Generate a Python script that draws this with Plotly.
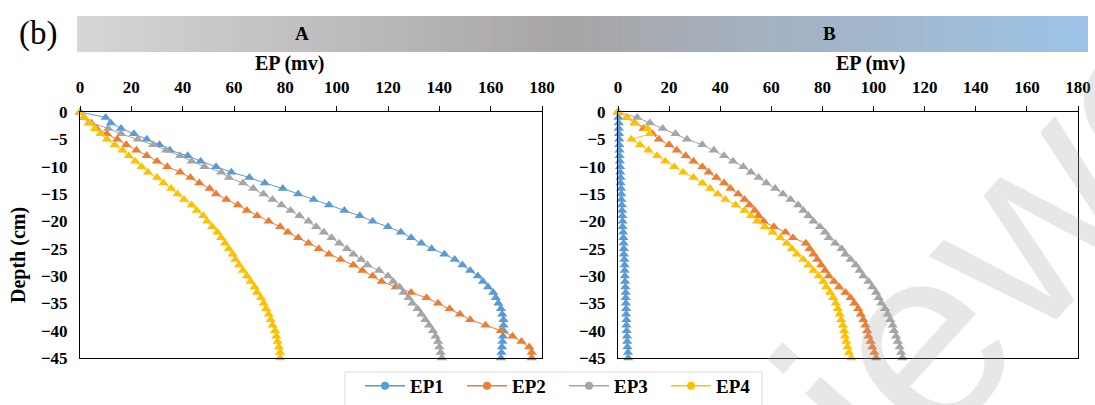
import plotly.graph_objects as go

W, H = 1095, 405

depth = [0, -1, -2, -3, -4, -5, -6, -7, -8, -9, -10, -11, -12, -13, -14, -15,
         -16, -17, -18, -19, -20, -21, -22, -23, -24, -25, -26, -27, -28, -29,
         -30, -31, -32, -33, -34, -35, -36, -37, -38, -39, -40, -41, -42, -43,
         -44, -45]

series_names = ["EP1", "EP2", "EP3", "EP4"]

# Panel A
A_EP1 = [0, 10, 12, 16, 21, 26, 31, 35, 42, 47, 53, 59, 66, 72, 79, 85, 91, 97, 103, 109,
         114, 120, 125, 129, 133, 137, 142, 146, 149, 152, 155, 157, 159, 161, 162, 163,
         164, 164.5, 165, 165, 165, 164.8, 164.6, 164.4, 164.2, 164]
A_EP2 = [0, 1.5, 3.5, 6.5, 10.5, 14.5, 18, 22, 26, 30, 34, 39, 43, 46.5, 50.5, 53, 57,
         61.5, 65, 69, 73.5, 78, 81, 85, 89, 93, 97, 101.5, 106.5, 110, 114, 117.5, 123,
         129, 135, 139.5, 144, 148, 152, 158, 164, 168.5, 172, 175, 176, 176]
A_EP3 = [0, 1.5, 4.5, 11, 16, 22.5, 28.5, 33.5, 39, 43.5, 48.5, 55, 58, 63.5, 67.5, 71.5,
         75, 78.5, 82, 85.5, 89, 92, 95, 98, 101, 104, 106.5, 109.5, 112, 116.5, 120, 122,
         124.5, 126, 128, 129.5, 131.5, 133, 134.5, 136, 137.5, 138.5, 139.5, 140, 140.5, 141]
A_EP4 = [0, 1.5, 3.8, 5.8, 8, 10.5, 13.5, 16.5, 19, 21.5, 24, 26.5, 30, 32.5, 35.5, 38,
         40.5, 43.5, 45.5, 48, 49.5, 51.5, 53.5, 55, 56.5, 58, 59.5, 60.5, 62, 63.5, 65,
         66.5, 68, 69, 70.5, 71.5, 72.5, 73.5, 74.3, 75, 76, 76.5, 77, 77.5, 78, 78]

# Panel B
B_EP1 = [0, 0.2, 0.3, 0.3, 0.4, 0.5, 0.5, 0.6, 0.6, 0.7, 0.8, 0.9, 1.0, 1.0, 1.2, 1.3,
         1.3, 1.5, 1.6, 1.7, 1.8, 1.8, 2.0, 2.1, 2.2, 2.3, 2.3, 2.5, 2.6, 2.6, 2.7, 2.8,
         2.9, 3.0, 3.0, 3.1, 3.2, 3.2, 3.3, 3.3, 3.4, 3.5, 3.6, 3.7, 3.9, 4.0]
B_EP2 = [0, 3.5, 6.5, 10, 13.5, 16, 20, 23, 26.5, 29.5, 33, 35.5, 38.5, 41.5, 44, 47,
         49.5, 51.5, 53.5, 55, 57, 61, 65.5, 68.5, 73.5, 75, 76.5, 78, 79.5, 81, 82.5,
         84.5, 86.5, 89, 91, 92.5, 94, 95, 96, 96.8, 97.5, 98, 98.8, 99.5, 100.3, 101]
B_EP3 = [0, 7.5, 12.5, 17.5, 22.5, 27, 33, 37.5, 41.5, 45, 49, 52, 55, 58, 61.5, 64.5,
         67.5, 70.5, 72.5, 74.5, 76.5, 79, 81, 82.5, 85, 87.5, 89, 91, 93, 94.5, 96, 98,
         99.5, 101, 102, 103, 104.5, 105.5, 106.5, 107.5, 108, 108.8, 109.5, 110.2, 110.8, 111.3]
B_EP4 = [0, 3.4, 6.7, 11.5, 12.5, 5.2, 8.6, 11.9, 15.3, 18.5, 22, 25.5, 29.5, 33, 36, 39,
         42, 46, 49.5, 52, 54.5, 57.5, 60.5, 63.5, 66, 68, 70, 72.5, 74.5, 76.5, 78.5,
         80.3, 81.5, 83, 84.2, 85.2, 86, 86.7, 87.3, 88, 88.5, 88.8, 89.3, 89.8, 90.4, 91.3]

panel_labels = ["A", "B"]
x_ticks = [0, 20, 40, 60, 80, 100, 120, 140, 160, 180]
y_ticks = [0, -5, -10, -15, -20, -25, -30, -35, -40, -45]

colors = ["#5B9BD5", "#ED7D31", "#A5A5A5", "#FFC000"]
SERIF = "Liberation Serif"


def px(x):
    return x / W


def py(y):
    return 1 - y / H


fig = go.Figure()

panelA = [A_EP1, A_EP2, A_EP3, A_EP4]
panelB = [B_EP1, B_EP2, B_EP3, B_EP4]
for axes, panel in (("x", panelA), ("x2", panelB)):
    ya = "y" if axes == "x" else "y2"
    for name, vals, col in zip(series_names, panel, colors):
        fig.add_trace(go.Scatter(
            x=vals, y=depth, xaxis=axes, yaxis=ya, name=name,
            mode="lines+markers", showlegend=False, cliponaxis=False,
            line=dict(color=col, width=1),
            marker=dict(symbol="triangle-up", size=9, color=col),
        ))

# legend entries (circle markers as in the reference legend)
for name, col in zip(series_names, colors):
    fig.add_trace(go.Scatter(
        x=[None], y=[None], xaxis="x", yaxis="y", name=name,
        mode="lines+markers", showlegend=True,
        line=dict(color=col, width=1.5),
        marker=dict(symbol="circle", size=8, color=col),
    ))

tickfont = dict(family=SERIF, size=17, color="black", weight="bold")

xcommon = dict(range=[0, 180], tickvals=x_ticks, side="top", ticks="outside",
               ticklen=5, tickcolor="black", tickwidth=1, showline=True,
               linecolor="black", linewidth=1, mirror=True, showgrid=False,
               zeroline=False, tickfont=tickfont, ticklabelstandoff=6,
               automargin=False)
ycommon = dict(range=[-45, 0], tickvals=y_ticks, ticks="", showline=True,
               linecolor="black", linewidth=1, mirror=True, showgrid=False,
               zeroline=False, tickfont=tickfont, ticklabelstandoff=8,
               automargin=False)

fig.update_layout(
    width=W, height=H, autosize=False,
    margin=dict(l=0, r=0, t=0, b=0, pad=0),
    paper_bgcolor="white", plot_bgcolor="white",
    xaxis=dict(domain=[px(80), px(542)], anchor="y", **xcommon),
    yaxis=dict(domain=[py(358), py(112)], anchor="x", **ycommon),
    xaxis2=dict(domain=[px(618), px(1078)], anchor="y2", **xcommon),
    yaxis2=dict(domain=[py(358), py(112)], anchor="x2", **ycommon),
    legend=dict(orientation="h", x=px(360), y=0.0, xanchor="left",
                yanchor="bottom", borderwidth=0,
                font=dict(family=SERIF, size=19, color="black", weight="bold"),
                entrywidth=47, entrywidthmode="pixels", bgcolor="rgba(0,0,0,0)",
                itemwidth=40),
)

# gradient banner
stops = [(0.0, (214, 214, 214)), (0.48, (168, 165, 166)), (1.0, (157, 196, 232))]


def grad(t):
    for (t0, c0), (t1, c1) in zip(stops[:-1], stops[1:]):
        if t0 <= t <= t1:
            f = (t - t0) / (t1 - t0)
            return "rgb(%d,%d,%d)" % tuple(round(a + (b - a) * f) for a, b in zip(c0, c1))
    return "rgb(%d,%d,%d)" % stops[-1][1]


x0, x1, y0, y1 = 77, 1088, 16, 52
n = 150
shapes = []
for i in range(n):
    a = x0 + (x1 - x0) * i / n
    b = x0 + (x1 - x0) * (i + 1) / n + 0.6
    c = grad((i + 0.5) / n)
    shapes.append(dict(type="rect", xref="paper", yref="paper", x0=px(a), x1=px(min(b, x1)),
                       y0=py(y1), y1=py(y0), fillcolor=c, line=dict(width=0), layer="below"))
# legend frame
shapes.append(dict(type="rect", xref="paper", yref="paper", x0=px(345), x1=px(762),
                   y0=py(410), y1=py(372), line=dict(color="#d9d9d9", width=1),
                   fillcolor="rgba(0,0,0,0)", layer="below"))
fig.update_layout(shapes=shapes)


def note(text, x, y, size, bold=True, angle=0, family=SERIF, color="black"):
    f = dict(family=family, size=size, color=color)
    if bold:
        f["weight"] = "bold"
    return dict(text=text, x=px(x), y=py(y), xref="paper", yref="paper", showarrow=False,
                xanchor="center", yanchor="middle", textangle=angle, font=f)


ann = [note("(b)", 38, 33, 33, bold=False)]
for lab, cx in zip(panel_labels, [302, 829]):
    ann.append(note(lab, cx, 33, 19))
for cx in [289, 870]:
    ann.append(note("EP (mv)", cx, 64, 20))
ann.append(note("Depth (cm)", 18, 255, 20, angle=-90))
# faint watermark
ann.append(note("reviewed", 935, 320, 260, bold=False, angle=-48,
                family="Liberation Sans", color="rgba(170,170,170,0.28)"))
fig.update_layout(annotations=ann)

fig.write_html("out.html")
